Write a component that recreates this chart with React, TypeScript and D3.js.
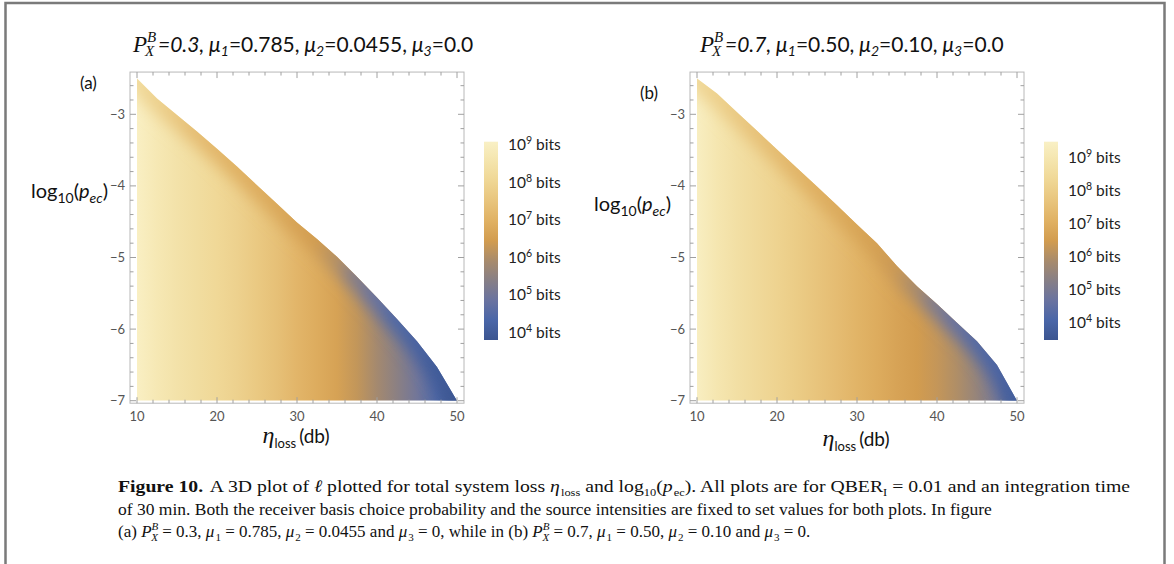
import React from 'react';
import * as d3 from 'd3';

// loss grid (dB) shared by both panels
const lossDb = [10, 12.5, 15, 17.5, 20, 22.5, 25, 27.5, 30, 32.5, 35, 37.5, 40, 42.5, 45, 47.5, 50];

// (a) upper edge of the region, log10(p_ec)
const edgeA = [-2.5, -2.78, -3.01, -3.24, -3.48, -3.73, -3.99, -4.25, -4.51, -4.74, -4.99, -5.27, -5.56, -5.86, -6.17, -6.53, -7.0];
// (a) log10(bits) along the bottom (p_ec = 1e-7)
const floorA = [9.05, 8.75, 8.5, 8.3, 8.1, 7.9, 7.65, 7.4, 7.1, 6.85, 6.6, 6.25, 5.85, 5.45, 5.0, 4.45, 3.85];
// (a) log10(bits) along the upper edge
const rimA = [8.2, 7.9, 7.6, 7.3, 7.1, 6.95, 6.85, 6.75, 6.6, 6.45, 6.1, 5.3, 4.8, 4.4, 4.2, 4.0, 3.85];

// (b) same three series
const edgeB = [-2.5, -2.71, -2.97, -3.23, -3.49, -3.75, -4.01, -4.27, -4.54, -4.8, -5.12, -5.4, -5.65, -5.91, -6.17, -6.5, -7.0];
const floorB = [9.4, 9.0, 8.7, 8.45, 8.2, 7.95, 7.7, 7.45, 7.2, 6.95, 6.7, 6.5, 6.3, 6.0, 5.55, 5.0, 3.8];
const rimB = [8.4, 8.1, 7.85, 7.6, 7.4, 7.2, 7.05, 6.9, 6.75, 6.6, 6.4, 5.9, 5.1, 4.6, 4.25, 4.0, 3.8];

// colour bar ranges, log10(bits)
const barRangeA = [3.8, 9.1];
const barRangeB = [3.5, 9.5];
const barExponents = [9, 8, 7, 6, 5, 4];

const xTicks = [10, 20, 30, 40, 50];
const yTicks = [-3, -4, -5, -6, -7];

const muA = ['0.785', '0.0455', '0.0'];
const muB = ['0.50', '0.10', '0.0'];

// starry-night like palette, bottom -> top
const paletteT = [0, 0.1, 0.2, 0.3, 0.4, 0.5, 0.6, 0.7, 0.8, 0.9, 1];
const paletteColors = ['#3b5590', '#4a66a8', '#6a73a0', '#877f86', '#a88b6c', '#d29c4f', '#e0b163', '#e8c47c', '#efd694', '#f4e4ac', '#f9f0c5'];

const palette = d3.scaleLinear<string>().domain(paletteT).range(paletteColors)
  .interpolate(d3.interpolateRgb).clamp(true);

const SANS = 'Lato, "Open Sans", sans-serif';
const SERIF = '"Liberation Serif", "DejaVu Serif", serif';
const FRAME = '#b8b8b8';
const TICK = '#a0a0a0';
const TICK_TEXT = '#555';

function Title({ x, y, px, mu }) {
  return (
    <g fill="#111">
      <text x={x} y={y} fontFamily={SERIF} fontStyle="italic" fontSize={23}>P</text>
      <text x={x + 14} y={y - 10} fontFamily={SERIF} fontStyle="italic" fontSize={15}>B</text>
      <text x={x + 12} y={y + 4} fontFamily={SERIF} fontStyle="italic" fontSize={15}>X</text>
      <text x={x + 25} y={y} fontFamily={SANS} fontSize={21}>
        <tspan fontStyle="italic">={px},</tspan>
        {mu.map((m, i) => (
          <React.Fragment key={i}>
            <tspan fontStyle="italic">{' μ'}</tspan>
            <tspan fontSize={14} dy={4} fontStyle="italic">{i + 1}</tspan>
            <tspan dy={-4}>={m}{i < 2 ? ',' : ''}</tspan>
          </React.Fragment>
        ))}
      </text>
    </g>
  );
}

function Panel({ id, off, edge, floor, rim, range, tag, tagY, labelY, labelX, titleX, px, mu, barX, barLabelX, xLabelY }) {
  const x = d3.scaleLinear().domain([10, 50]).range([137 + off, 457 + off]);
  const y = d3.scaleLinear().domain([-3, -7]).range([114.3, 400.7]);
  const xDom = [9.125, 50.875];
  const yDom = [-7.035, -2.41];
  const t = d3.scaleLinear().domain(range).range([0, 1]);
  const col = (v) => palette(t(v));
  const pts = lossDb.map((L, i) => [x(L), y(edge[i])]);
  const area = d3.area().x((d) => d[0]).y0(y(-7)).y1((d) => d[1])(pts);

  const x0 = x(xDom[0]), x1 = x(xDom[1]);
  const y0 = y(yDom[1]), y1 = y(yDom[0]);

  const xMinor = d3.scaleLinear().domain(xDom).ticks(20).filter((v) => v % 10 !== 0);
  const yMinor = d3.scaleLinear().domain(yDom).ticks(25).filter((v) => Math.abs(v - Math.round(v)) > 1e-6);
  const fmt = d3.format('d');

  const barY = d3.scaleLinear().domain(range).range([340, 141.7]);

  return (
    <g>
      <defs>
        <clipPath id={`clip-${id}`}>
          <path d={area} />
        </clipPath>
        <linearGradient id={`floor-${id}`} gradientUnits="userSpaceOnUse" x1={x(10)} x2={x(50)} y1={0} y2={0}>
          {lossDb.map((L, i) => (
            <stop key={i} offset={(x(L) - x(10)) / (x(50) - x(10))} stopColor={col(floor[i])} />
          ))}
        </linearGradient>
        {pts.slice(1).map((p, i) => (
          <linearGradient key={i} id={`rim-${id}-${i}`} gradientUnits="userSpaceOnUse"
            x1={pts[i][0]} y1={pts[i][1]} x2={p[0]} y2={p[1]}>
            <stop offset={0} stopColor={col(rim[i])} />
            <stop offset={1} stopColor={col(rim[i + 1])} />
          </linearGradient>
        ))}
        <filter id={`blur-${id}`} filterUnits="userSpaceOnUse" x={x0 - 40} y={y0 - 40} width={x1 - x0 + 80} height={y1 - y0 + 80}>
          <feGaussianBlur stdDeviation={8} />
        </filter>
        <linearGradient id={`bar-${id}`} x1={0} y1={1} x2={0} y2={0}>
          {paletteT.map((s, i) => (
            <stop key={i} offset={s} stopColor={paletteColors[i]} />
          ))}
        </linearGradient>
      </defs>

      {/* density region */}
      <g clipPath={`url(#clip-${id})`}>
        <rect x={x(10)} y={y(-2.4)} width={x(50) - x(10)} height={y(-7) - y(-2.4)} fill={`url(#floor-${id})`} />
        <g filter={`url(#blur-${id})`}>
          {pts.slice(1).map((p, i) => (
            <line key={i} x1={pts[i][0]} y1={pts[i][1]} x2={p[0]} y2={p[1]}
              stroke={`url(#rim-${id}-${i})`} strokeWidth={24} strokeLinecap="round" />
          ))}
        </g>
      </g>

      {/* frame */}
      <rect x={x0} y={y0} width={x1 - x0} height={y1 - y0} fill="none" stroke={FRAME} strokeWidth={1} />
      {xTicks.map((v) => (
        <g key={`xm${v}`} stroke={TICK}>
          <line x1={x(v)} x2={x(v)} y1={y1} y2={y1 - 6} />
          <line x1={x(v)} x2={x(v)} y1={y0} y2={y0 + 6} />
        </g>
      ))}
      {xMinor.map((v) => (
        <g key={`xn${v}`} stroke={TICK}>
          <line x1={x(v)} x2={x(v)} y1={y1} y2={y1 - 3.5} />
          <line x1={x(v)} x2={x(v)} y1={y0} y2={y0 + 3.5} />
        </g>
      ))}
      {yTicks.map((v) => (
        <g key={`ym${v}`} stroke={TICK}>
          <line x1={x0} x2={x0 + 6} y1={y(v)} y2={y(v)} />
          <line x1={x1} x2={x1 - 6} y1={y(v)} y2={y(v)} />
        </g>
      ))}
      {yMinor.map((v) => (
        <g key={`yn${v}`} stroke={TICK}>
          <line x1={x0} x2={x0 + 3.5} y1={y(v)} y2={y(v)} />
          <line x1={x1} x2={x1 - 3.5} y1={y(v)} y2={y(v)} />
        </g>
      ))}
      {xTicks.map((v) => (
        <text key={`xl${v}`} x={x(v)} y={y1 + 18} textAnchor="middle" fontFamily={SANS} fontSize={13} fill={TICK_TEXT}>{fmt(v)}</text>
      ))}
      {yTicks.map((v) => (
        <text key={`yl${v}`} x={x0 - 5} y={y(v) + 4.5} textAnchor="end" fontFamily={SANS} fontSize={13} fill={TICK_TEXT}>{fmt(v)}</text>
      ))}

      {/* axis labels */}
      <text x={labelX} y={labelY} fontFamily={SANS} fontSize={20} fill="#111">
        log<tspan fontSize={14} dy={5}>10</tspan>
        <tspan dy={-5}>(</tspan>
        <tspan fontStyle="italic">p</tspan>
        <tspan fontStyle="italic" fontSize={14} dy={5}>ec</tspan>
        <tspan dy={-5}>)</tspan>
      </text>
      <text x={x(25.7)} y={xLabelY} fontFamily={SANS} fontSize={19} fill="#111">
        <tspan fontFamily={SERIF} fontStyle="italic" fontSize={24}>η</tspan>
        <tspan fontSize={13} dy={5}>loss</tspan>
        <tspan dy={-5} dx={3}>(db)</tspan>
      </text>
      <text x={x(10) - 57} y={tagY} fontFamily={SANS} fontSize={17} fill="#111">{tag}</text>
      <Title x={titleX} y={52} px={px} mu={mu} />

      {/* colour bar */}
      <rect x={barX} y={barY(range[1])} width={14} height={barY(range[0]) - barY(range[1])} fill={`url(#bar-${id})`} />
      {barExponents.map((e) => (
        <text key={e} x={barLabelX} y={barY(e) + 5} fontFamily={SANS} fontSize={15.5} fill="#222">
          10<tspan fontSize={10.5} dy={-6}>{e}</tspan>
          <tspan dy={6}>{' bits'}</tspan>
        </text>
      ))}
    </g>
  );
}

export default function App() {
  return (
    <svg width={1174} height={564} style={{ position: 'absolute', left: 0, top: 0, background: '#fff' }}>
      <rect x={0} y={0} width={1174} height={564} fill="#fff" />
      <rect x={5.5} y={3} width={1159} height={600} fill="none" stroke="#7a7a7a" strokeWidth={2.5} />
      <Panel id="a" off={0} edge={edgeA} floor={floorA} rim={rimA} range={barRangeA}
        tag="(a)" tagY={89} labelY={198} labelX={31} titleX={133} xLabelY={443}
        px="0.3" mu={muA} barX={484} barLabelX={508} />
      <Panel id="b" off={560} edge={edgeB} floor={floorB} rim={rimB} range={barRangeB}
        tag="(b)" tagY={99} labelY={211} labelX={594} titleX={700} xLabelY={446}
        px="0.7" mu={muB} barX={1044} barLabelX={1068} />

      {/* caption */}
      <g fontFamily={SERIF} fontSize={17.5} fill="#111">
        <text x={118} y={492} textLength={1012} lengthAdjust="spacingAndGlyphs">
          <tspan fontWeight="bold">Figure 10.</tspan>
          <tspan dx={6}>A 3D plot of </tspan>
          <tspan fontStyle="italic">ℓ</tspan>
          <tspan>{' plotted for total system loss '}</tspan>
          <tspan fontStyle="italic">η</tspan>
          <tspan fontSize={11} dy={4} dx={1}>loss</tspan>
          <tspan dy={-4}>{' and log'}</tspan>
          <tspan fontSize={11} dy={4}>10</tspan>
          <tspan dy={-4}>(</tspan>
          <tspan fontStyle="italic">p</tspan>
          <tspan fontSize={11} dy={4} dx={1}>ec</tspan>
          <tspan dy={-4}>{'). All plots are for QBER'}</tspan>
          <tspan fontSize={11} dy={4}>I</tspan>
          <tspan dy={-4}>{' = 0.01 and an integration time'}</tspan>
        </text>
        <text x={118} y={515}>
          of 30 min. Both the receiver basis choice probability and the source intensities are fixed to set values for both plots. In figure
        </text>
        <text x={118} y={537} fontSize={17}>
          <tspan>{'(a) '}</tspan>
          <tspan fontStyle="italic">P</tspan>
          <tspan fontStyle="italic" fontSize={11} dy={-7}>B</tspan>
          <tspan fontStyle="italic" fontSize={11} dx={-7} dy={11}>X</tspan>
          <tspan dy={-4}>{' = 0.3, '}</tspan>
          <tspan fontStyle="italic">μ</tspan>
          <tspan fontSize={11} dy={4} dx={1}>1</tspan>
          <tspan dy={-4}>{' = 0.785, '}</tspan>
          <tspan fontStyle="italic">μ</tspan>
          <tspan fontSize={11} dy={4} dx={1}>2</tspan>
          <tspan dy={-4}>{' = 0.0455 and '}</tspan>
          <tspan fontStyle="italic">μ</tspan>
          <tspan fontSize={11} dy={4} dx={1}>3</tspan>
          <tspan dy={-4}>{' = 0, while in (b) '}</tspan>
          <tspan fontStyle="italic">P</tspan>
          <tspan fontStyle="italic" fontSize={11} dy={-7}>B</tspan>
          <tspan fontStyle="italic" fontSize={11} dx={-7} dy={11}>X</tspan>
          <tspan dy={-4}>{' = 0.7, '}</tspan>
          <tspan fontStyle="italic">μ</tspan>
          <tspan fontSize={11} dy={4} dx={1}>1</tspan>
          <tspan dy={-4}>{' = 0.50, '}</tspan>
          <tspan fontStyle="italic">μ</tspan>
          <tspan fontSize={11} dy={4} dx={1}>2</tspan>
          <tspan dy={-4}>{' = 0.10 and '}</tspan>
          <tspan fontStyle="italic">μ</tspan>
          <tspan fontSize={11} dy={4} dx={1}>3</tspan>
          <tspan dy={-4}>{' = 0.'}</tspan>
        </text>
      </g>
    </svg>
  );
}
